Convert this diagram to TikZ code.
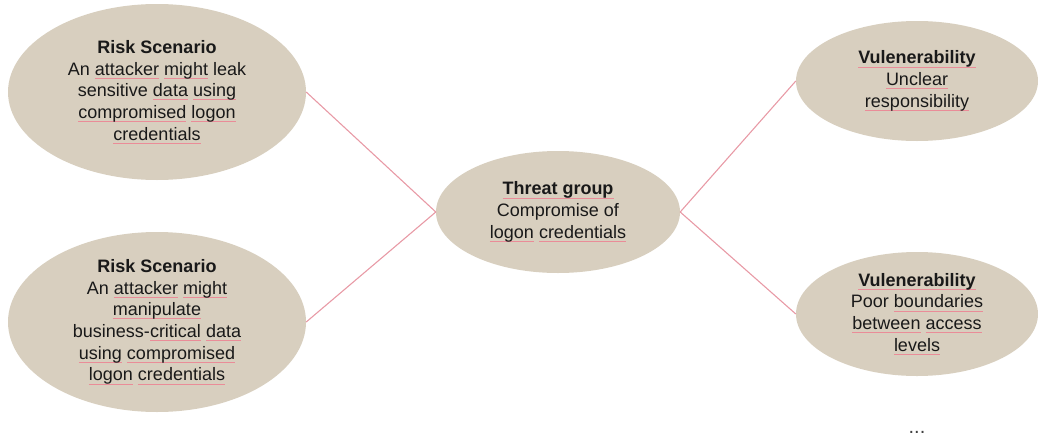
\documentclass[tikz,border=0pt]{standalone}
\usepackage{fontspec}
\setmainfont{Liberation Sans}
\usepackage{xcolor}
\usetikzlibrary{shapes.geometric,positioning}
\definecolor{bubblefill}{HTML}{D8CFBF}
\definecolor{linkpink}{HTML}{E89AA6}
\definecolor{squig}{HTML}{EA8C98}
% spell-check mark under a word
\newsavebox{\sqwbox}
\newcommand{\sqw}[1]{\sbox{\sqwbox}{#1}\leavevmode\rlap{\color{squig}\rule[-3.4pt]{\wd\sqwbox}{0.8pt}}\usebox{\sqwbox}}

\begin{document}
\begin{tikzpicture}[x=1pt,y=-1pt,
  bubble/.style={ellipse, fill=bubblefill, align=center, inner sep=1pt,
    text=black!90, font=\fontsize{18}{21.7}\selectfont},
  link/.style={draw=linkpink, line width=1.1pt}]
\useasboundingbox (0,0) rectangle (1038,439);

% Risk scenarios (left)
\node[bubble, minimum width=298, minimum height=176] (risk1) at (157,92)
  {\textbf{Risk Scenario}\\ An \sqw{attacker} \sqw{might} leak\\ sensitive \sqw{data} \sqw{using}\\ \sqw{compromised} \sqw{logon}\\ \sqw{credentials}};
\node[bubble, minimum width=298, minimum height=170] (risk2) at (157,322)
  {\textbf{Risk Scenario}\\ An \sqw{attacker} \sqw{might}\\ \sqw{manipulate}\\ business-\sqw{critical} \sqw{data}\\ \sqw{using} \sqw{compromised}\\ \sqw{logon} \sqw{credentials}};

% Threat group (middle)
\node[bubble, minimum width=244, minimum height=122] (threat) at (558,212)
  {\sqw{\textbf{Threat group}}\\ Compromise of\\ \sqw{logon} \sqw{credentials}};

% Vulnerabilities (right)
\node[bubble, minimum width=242, minimum height=120] (vuln1) at (917,81)
  {\sqw{\textbf{Vulenerability}}\\ \sqw{Unclear}\\ \sqw{responsibility}};
\node[bubble, minimum width=242, minimum height=124] (vuln2) at (917,314)
  {\sqw{\textbf{Vulenerability}}\\ Poor \sqw{boundaries}\\ \sqw{between} \sqw{access}\\ \sqw{levels}};
\node[font=\fontsize{20}{22}\selectfont, text=black!75] (more) at (917,432) {...};

% Links
\draw[link] (risk1.east) -- (threat.west);
\draw[link] (risk2.east) -- (threat.west);
\draw[link] (threat.east) -- (vuln1.west);
\draw[link] (threat.east) -- (vuln2.west);

\end{tikzpicture}
\end{document}
